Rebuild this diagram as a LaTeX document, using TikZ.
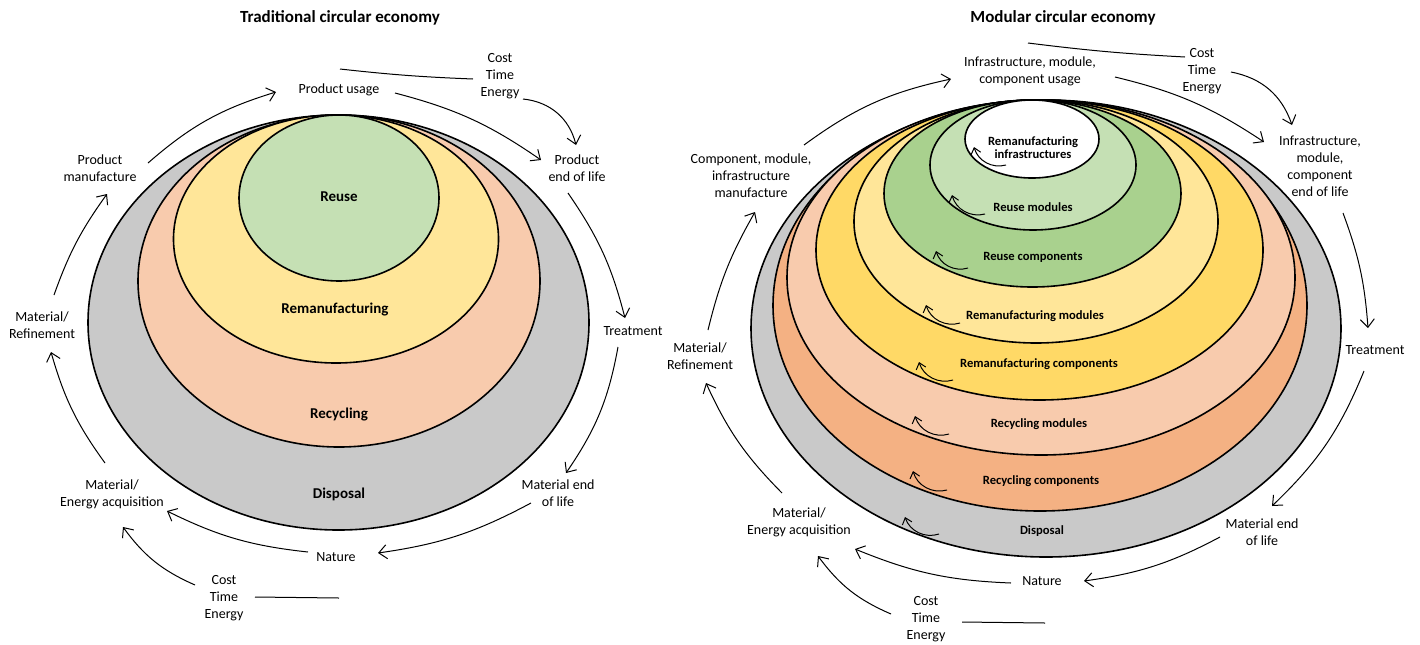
\documentclass[tikz,border=0pt]{standalone}
\usepackage{fontspec}
\setmainfont{Carlito}
\usetikzlibrary{arrows.meta,calc}

\definecolor{discgray}{HTML}{C9C9C9}
\definecolor{recdark}{HTML}{F4B183}
\definecolor{reclight}{HTML}{F8CBAD}
\definecolor{remgold}{HTML}{FFD966}
\definecolor{remlight}{HTML}{FFE699}
\definecolor{reusedark}{HTML}{A9D18E}
\definecolor{reuselight}{HTML}{C5E0B4}

\tikzset{
  lbl/.style={font=\fontsize{7}{8.5}\selectfont, align=center, inner sep=0pt},
  inlbl/.style={font=\bfseries\fontsize{7.5}{9}\selectfont, align=center, inner sep=0pt},
  inlblR/.style={font=\bfseries\fontsize{6.3}{6.6}\selectfont, align=center, inner sep=0pt},
  ttl/.style={font=\bfseries\fontsize{8.5}{10}\selectfont, inner sep=0pt},
  ring/.style={draw=black, line width=0.8pt},
  arr/.style={line width=0.5pt, -{Straight Barb[length=4pt,width=7pt]}},
  sarr/.style={line width=0.5pt, -{Straight Barb[length=3pt,width=5pt]}},
  plain/.style={line width=0.5pt},
}

\begin{document}
\begin{tikzpicture}[x=0.5pt,y=-0.5pt]
\fill[white] (0,0) rectangle (1420,644);
\useasboundingbox (0,0) rectangle (1420,644);

% ---------------- Traditional circular economy ----------------
\node[ttl] (titleL) at (340,18) {Traditional circular economy};

\filldraw[ring, fill=discgray]  (338.5,322.5) ellipse [x radius=250.5, y radius=207.5];
\filldraw[ring, fill=reclight]  (339,281)     ellipse [x radius=201,   y radius=166];
\filldraw[ring, fill=remlight]  (336,239)     ellipse [x radius=162.5, y radius=124];
\filldraw[ring, fill=reuselight](339,198)     ellipse [x radius=100,   y radius=83];

\node[inlbl] (reuseL) at (339,197) {Reuse};
\node[inlbl] (remL)   at (335,310) {Remanufacturing};
\node[inlbl] (recL)   at (339,414) {Recycling};
\node[inlbl] (dispL)  at (339,494) {Disposal};

\node[lbl] (pusage)  at (339,90)  {Product usage};
\node[lbl] (cteT)    at (500,76)  {Cost\\Time\\Energy};
\node[lbl] (peol)    at (577,168) {Product\\end of life};
\node[lbl] (treatL)  at (633,331) {Treatment};
\node[lbl] (meolL)   at (558,493) {Material end\\of life};
\node[lbl] (natureL) at (336,557) {Nature};
\node[lbl] (meaL)    at (112,494) {Material/\\Energy acquisition};
\node[lbl] (cteB)    at (224,598) {Cost\\Time\\Energy};
\node[lbl] (mrL)     at (42,325)  {Material/\\Refinement};
\node[lbl] (pmanL)   at (100,168) {Product\\manufacture};

\draw[arr] ($(pmanL)+(48,-5)$)   to[bend left=12] ($(pusage)+(-63,2)$);
\draw[arr] ($(pusage)+(56,3)$)   to[bend left=10] ($(peol)+(-36,-8)$);
\draw[plain] ($(pusage)+(1,-21)$) to[bend right=2] ($(cteT)+(-27,3)$);
\draw[arr] ($(cteT)+(23,23)$)    to[bend left=35] ($(peol)+(-1,-23)$);
\draw[arr] ($(peol)+(-9,25)$)    to[bend left=10] ($(treatL)+(-8,-13)$);
\draw[arr] ($(treatL)+(-15,16)$) to[bend left=12] ($(meolL)+(8,-20)$);
\draw[arr] ($(meolL)+(-27,10)$)  to[bend left=10] ($(natureL)+(42,-4)$);
\draw[arr] ($(natureL)+(-28,-5)$) to[bend left=10] ($(meaL)+(55,17)$);
\draw[plain] ($(cteB)+(31,-1)$)  -- ($(cteB)+(115,0)$);
\draw[arr] ($(cteB)+(-29,-13)$)  to[bend left=15] ($(meaL)+(11,33)$);
\draw[arr] ($(meaL)+(-7,-31)$)   to[bend left=10] ($(mrL)+(9,27)$);
\draw[arr] ($(mrL)+(12,-30)$)    to[bend left=8]  ($(pmanL)+(7,26)$);

% ---------------- Modular circular economy ----------------
\node[ttl] (titleR) at (1063,18) {Modular circular economy};

\filldraw[ring, fill=discgray]   (1046,328.5)  ellipse [x radius=295,   y radius=228.5];
\filldraw[ring, fill=recdark]    (1040,305.5)  ellipse [x radius=267,   y radius=205.5];
\filldraw[ring, fill=reclight]   (1041,277.5)  ellipse [x radius=254,   y radius=177.5];
\filldraw[ring, fill=remgold]    (1039.5,250)  ellipse [x radius=223.5, y radius=150];
\filldraw[ring, fill=remlight]   (1036,221.5)  ellipse [x radius=182,   y radius=121.5];
\filldraw[ring, fill=reusedark]  (1032.5,193.5) ellipse [x radius=148.5, y radius=93.5];
\filldraw[ring, fill=reuselight] (1033,165)    ellipse [x radius=103,   y radius=65];
\filldraw[ring, fill=white]      (1032,139)    ellipse [x radius=67,    y radius=39];

\node[inlblR] (rinf)    at (1033,148) {Remanufacturing\\infrastructures};
\node[inlblR] (rmod)    at (1033,207) {Reuse modules};
\node[inlblR] (rcomp)   at (1033,257) {Reuse components};
\node[inlblR] (remmod)  at (1035,316) {Remanufacturing modules};
\node[inlblR] (remcomp) at (1039,364) {Remanufacturing components};
\node[inlblR] (recmod)  at (1039,424) {Recycling modules};
\node[inlblR] (reccomp) at (1041,481) {Recycling components};
\node[inlblR] (dispR)   at (1042,531) {Disposal};

% small return arrows inside the rings
\draw[sarr] (1006,165) to[bend left=45] (974,147);
\draw[sarr] (985,214)  to[bend left=45] (952,195);
\draw[sarr] (968,268)  to[bend left=45] (936,251);
\draw[sarr] (960,323)  to[bend left=45] (926,305);
\draw[sarr] (953,380)  to[bend left=45] (919,362);
\draw[sarr] (949,434)  to[bend left=45] (915,416);
\draw[sarr] (947,490)  to[bend left=45] (913,471);
\draw[sarr] (939,534)  to[bend left=45] (905,517);

\node[lbl] (cmR)     at (751,176)  {Component, module,\\infrastructure\\manufacture};
\node[lbl] (iuse)    at (1030,71)  {Infrastructure, module,\\component usage};
\node[lbl] (cteRT)   at (1202,71)  {Cost\\Time\\Energy};
\node[lbl] (ieol)    at (1320,166) {Infrastructure,\\module,\\component\\end of life};
\node[lbl] (treatR)  at (1375,350) {Treatment};
\node[lbl] (meolR)   at (1262,532) {Material end\\of life};
\node[lbl] (natureR) at (1042,581) {Nature};
\node[lbl] (meaR)    at (799,522)  {Material/\\Energy acquisition};
\node[lbl] (cteRB)   at (926,619)  {Cost\\Time\\Energy};
\node[lbl] (mrR)     at (700,356)  {Material/\\Refinement};

\draw[arr] ($(cmR)+(53,-31)$)     to[bend left=12] ($(iuse)+(-79,8)$);
\draw[arr] ($(iuse)+(85,6)$)      to[bend left=10] ($(ieol)+(-56,-24)$);
\draw[plain] ($(iuse)+(-2,-28)$)  to[bend right=2] ($(cteRT)+(-17,-14)$);
\draw[arr] ($(cteRT)+(29,1)$)     to[bend left=30] ($(ieol)+(-28,-41)$);
\draw[arr] ($(ieol)+(23,47)$)     to[bend left=8]  ($(treatR)+(-7,-22)$);
\draw[arr] ($(treatR)+(-11,21)$)  to[bend left=12] ($(meolR)+(10,-26)$);
\draw[arr] ($(meolR)+(-42,5)$)    to[bend left=10] ($(natureR)+(42,0)$);
\draw[arr] ($(natureR)+(-31,2)$)  to[bend left=10] ($(meaR)+(56,27)$);
\draw[plain] ($(cteRB)+(36,3)$)   -- ($(cteRB)+(119,4)$);
\draw[arr] ($(cteRB)+(-35,-5)$)   to[bend left=15] ($(meaR)+(19,34)$);
\draw[arr] ($(meaR)+(-17,-29)$)   to[bend left=10] ($(mrR)+(6,27)$);
\draw[arr] ($(mrR)+(8,-26)$)      to[bend left=8]  ($(cmR)+(4,36)$);

\end{tikzpicture}
\end{document}
